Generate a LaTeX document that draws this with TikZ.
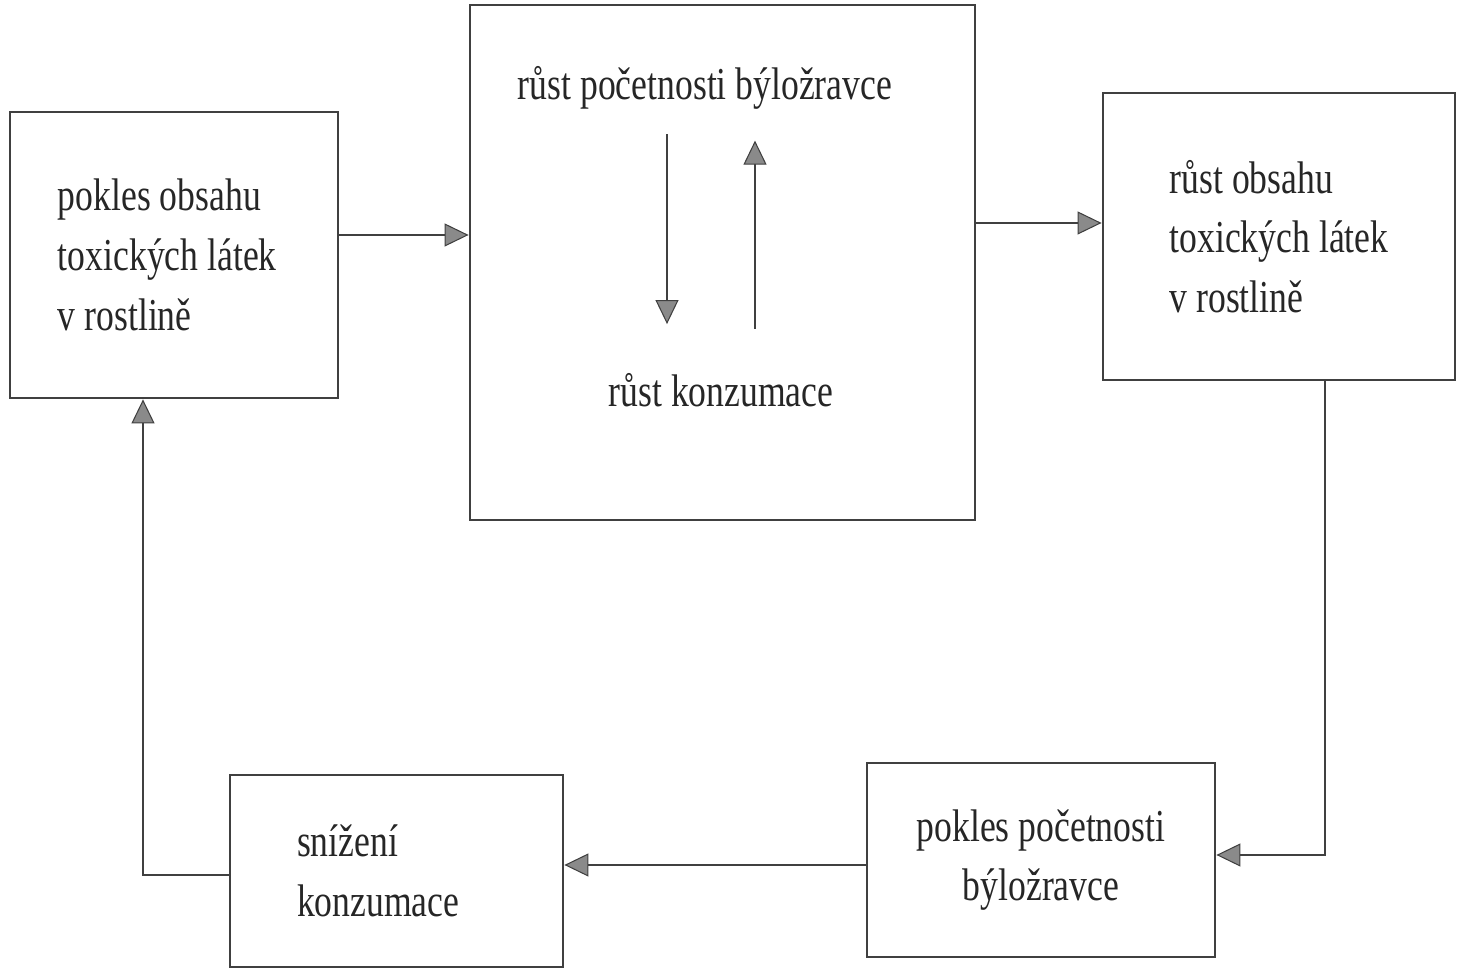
\documentclass[tikz,border=0pt]{standalone}
\usepackage{fontspec}
\setmainfont{Liberation Serif}[FakeStretch=0.78]
\usetikzlibrary{arrows.meta, positioning, calc}

\definecolor{linegray}{HTML}{404040}
\definecolor{tipgray}{HTML}{8A8A8A}
\definecolor{textgray}{HTML}{262626}

\tikzset{
  box/.style={draw=linegray, line width=1.6pt, inner sep=0pt, text=textgray},
  label/.style={text=textgray, inner sep=1pt},
  flow/.style={draw=linegray, line width=1.6pt,
    -{Triangle[length=4.8mm, width=4.6mm, color=linegray, fill=tipgray, line width=0.6pt]}},
}

\begin{document}
\begin{tikzpicture}[font=\fontsize{26}{34}\selectfont]
\useasboundingbox (0,0) rectangle (29.2,19.46);

% boxes
\node[box, minimum width=6.56cm, minimum height=5.72cm, text width=4.64cm, align=flush left] (pokles) at (3.48,14.36)
  {pokles obsahu\\toxických látek\\v rostlině};
\node[box, minimum width=10.1cm, minimum height=10.3cm] (rust) at (14.45,14.21) {};
\node[box, minimum width=7.04cm, minimum height=5.74cm, align=left] (rustobs) at (25.58,14.73)
  {růst obsahu\\toxických látek\\v rostlině};
\node[box, minimum width=6.96cm, minimum height=3.88cm, align=center] (pokpoc) at (20.82,2.26)
  {pokles početnosti\\býložravce};
\node[box, minimum width=6.66cm, minimum height=3.84cm, text width=3.98cm, align=flush left] (snizeni) at (7.93,2.04)
  {snížení\\konzumace};

% texts in the middle box
\node[label] (rustpoc) at (14.1,17.7) {růst početnosti býložravce};
\node[label] (rustkon) at (14.42,11.66) {růst konzumace};

\draw[flow] (rustpoc.south) ++(-0.76,-0.45) -- ++(0,-3.8);
\draw[flow] (rustkon.north) ++(0.68,0.85) -- ++(0,3.76);

% connectors
\draw[flow] ([yshift=4mm]pokles.east) -- ([yshift=4mm]pokles.east -| rust.west);
\draw[flow] ([yshift=7.9mm]rust.east) -- ([yshift=7.9mm]rust.east -| rustobs.west);
\draw[flow] ([xshift=9.2mm]rustobs.south) |- ([yshift=1mm]pokpoc.east);
\draw[flow] ([yshift=-1mm]pokpoc.west) -- ([yshift=-1mm]pokpoc.west -| snizeni.east);
\draw[flow] ([yshift=-0.8mm]snizeni.west) -| ([xshift=-6.2mm]pokles.south);

\end{tikzpicture}
\end{document}
